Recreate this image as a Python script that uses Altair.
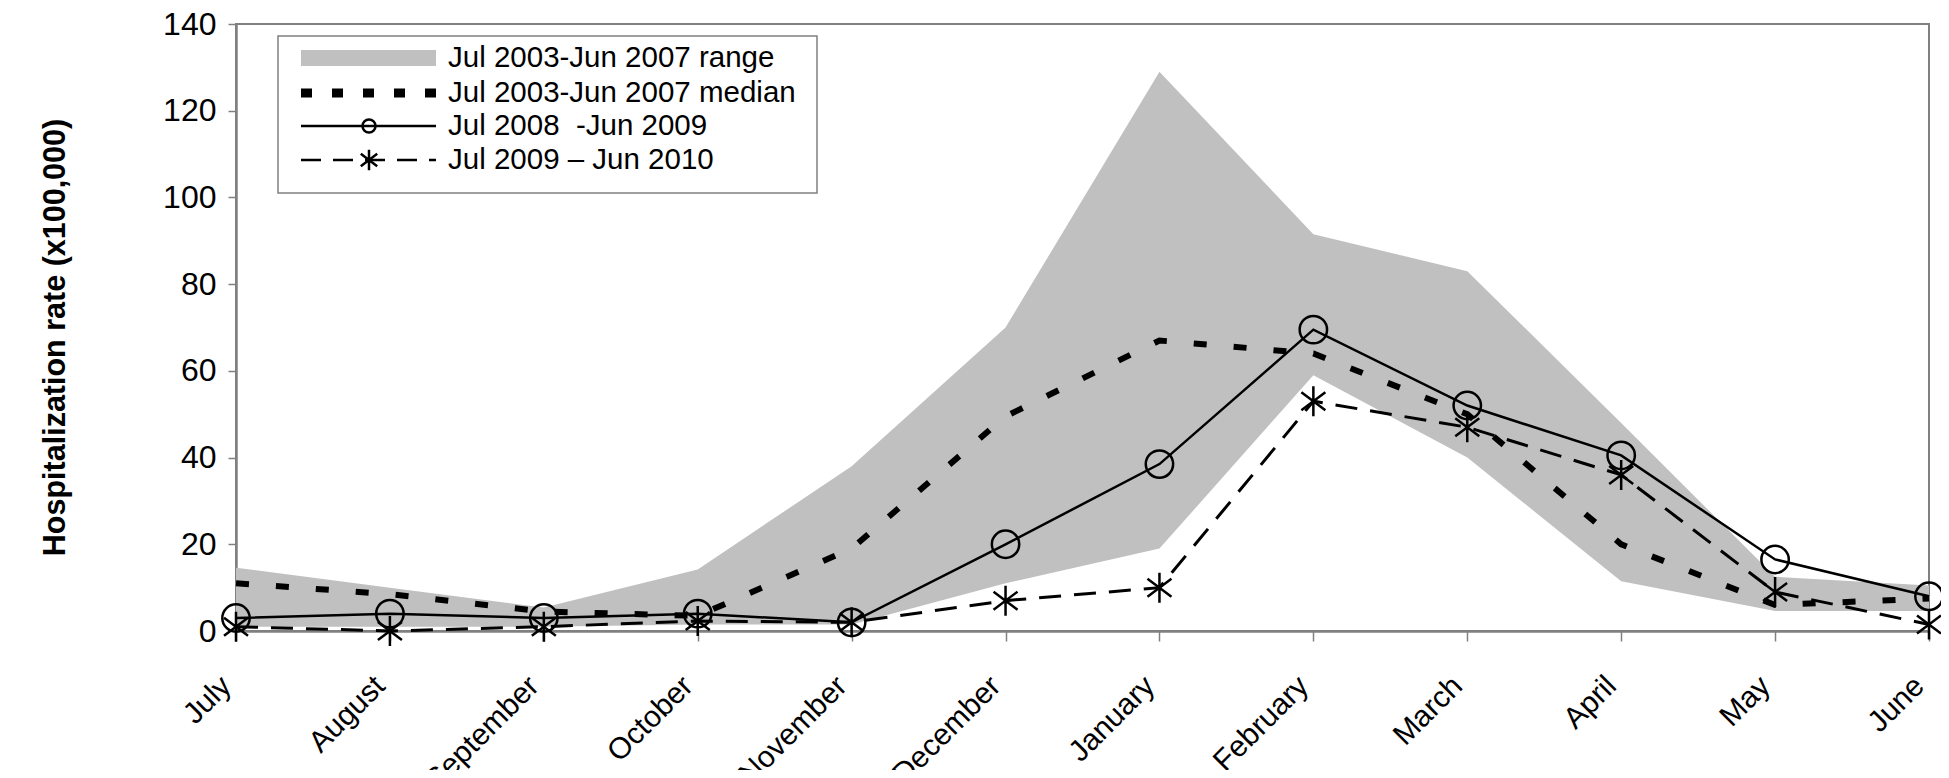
import altair as alt
import pandas as pd

# ---------------- data ----------------
months = ["July", "August", "September", "October", "November", "December",
          "January", "February", "March", "April", "May", "June"]
range_low = [1, 1, 1, 1.5, 1.5, 11, 19, 59, 40, 11.5, 4.6, 4.6]
range_high = [14.6, 10, 5.4, 14.2, 38, 70, 129, 91.5, 83, 48, 12.5, 10.5]
median_0307 = [11, 8.5, 4.5, 3.5, 19, 49.5, 67, 64, 50, 20, 6, 7.5]
rate_0809 = [3, 4, 3, 4, 2, 20, 38.5, 69.5, 52, 40.5, 16.5, 8]
rate_0910 = [1, 0, 1, 2.3, 2, 7, 10, 53, 47, 36, 9, 1.5]
series_names = ["Jul 2003-Jun 2007 range", "Jul 2003-Jun 2007 median",
                "Jul 2008\u00a0 -Jun 2009", "Jul 2009 \u2013 Jun 2010"]
y_ticks = [0, 20, 40, 60, 80, 100, 120, 140]
y_title = "Hospitalization rate (x100,000)"

df = pd.DataFrame({"month": months, "low": range_low, "high": range_high,
                   "median": median_0307, "r0809": rate_0809, "r0910": rate_0910})

# ---------------- styles ----------------
FONT = "Liberation Sans, Arial, sans-serif"
GRAY_AXIS = "#808080"
BAND = "#c0c0c0"
STAR = "M0,-1L0,1M-0.8,-0.6L0.8,0.6M-0.8,0.6L0.8,-0.6"

x_enc = alt.X("month:N", sort=months, title=None,
              scale=alt.Scale(type="point", padding=0),
              axis=alt.Axis(labelAngle=315, labelAlign="right", labelBaseline="middle",
                            labelFont=FONT, labelFontSize=30, labelColor="black",
                            labelPadding=40, labelOffset=-10, labelOverlap=False,
                            tickSize=10, tickColor=GRAY_AXIS, tickWidth=1.5,
                            domainColor=GRAY_AXIS, domainWidth=2.5, grid=False))

y_axis = alt.Axis(values=y_ticks, title=y_title, grid=False,
                  titleFont=FONT, titleFontSize=30.5, titleFontWeight="bold",
                  titleColor="black", titleAngle=270, titleX=-181, titleY=313,
                  titleAlign="center", titleBaseline="middle",
                  labelFont=FONT, labelFontSize=32, labelColor="black", labelPadding=12,
                  tickSize=8, tickColor=GRAY_AXIS, tickWidth=1.5,
                  domainColor=GRAY_AXIS, domainWidth=2.5)
y_scale = alt.Scale(domain=[0, 140], nice=False, zero=True)


def yq(field):
    return alt.Y(f"{field}:Q", scale=y_scale, axis=y_axis)


base = alt.Chart(df)

band = base.mark_area(color=BAND, opacity=1).encode(
    x=x_enc, y=yq("low"), y2="high:Q")

median_line = base.mark_line(color="black", strokeWidth=6, strokeDash=[13, 27],
                             strokeCap="butt").encode(x=x_enc, y=yq("median"))

line_0910 = base.mark_line(color="black", strokeWidth=3, strokeDash=[22, 13]).encode(
    x=x_enc, y=yq("r0910"))
pts_0910 = base.mark_point(shape=STAR, size=900, color="black", strokeWidth=2.5,
                           filled=False, opacity=1).encode(x=x_enc, y=yq("r0910"))

line_0809 = base.mark_line(color="black", strokeWidth=2.5).encode(
    x=x_enc, y=yq("r0809"))
pts_0809 = base.mark_point(shape="circle", size=750, color="black", strokeWidth=2.5,
                           filled=False, opacity=1).encode(x=x_enc, y=yq("r0809"))

# ---------------- manual legend (pixel placement inside plot area) ----------------
one = pd.DataFrame({"k": [0]})
row_y = [34, 69, 102, 136]
sym_x0, sym_x1, sym_xc, text_x = 65, 200, 133, 212

legend_layers = [
    alt.Chart(one).mark_rect(fill="white", stroke=GRAY_AXIS, strokeWidth=1.5).encode(
        x=alt.value(42), x2=alt.value(581), y=alt.value(12), y2=alt.value(169)),
    alt.Chart(one).mark_rect(fill=BAND).encode(
        x=alt.value(sym_x0), x2=alt.value(sym_x1),
        y=alt.value(row_y[0] - 8), y2=alt.value(row_y[0] + 8)),
    alt.Chart(one).mark_rule(color="black", strokeWidth=9, strokeDash=[11, 20],
                             strokeCap="butt").encode(
        x=alt.value(sym_x0), x2=alt.value(sym_x1), y=alt.value(row_y[1])),
    alt.Chart(one).mark_rule(color="black", strokeWidth=2.5).encode(
        x=alt.value(sym_x0), x2=alt.value(sym_x1), y=alt.value(row_y[2])),
    alt.Chart(one).mark_point(shape="circle", size=170, color="black", strokeWidth=2.5,
                              filled=False, opacity=1).encode(
        x=alt.value(sym_xc), y=alt.value(row_y[2])),
    alt.Chart(one).mark_rule(color="black", strokeWidth=2.5, strokeDash=[20, 12]).encode(
        x=alt.value(sym_x0), x2=alt.value(sym_x1), y=alt.value(row_y[3])),
    alt.Chart(one).mark_point(shape=STAR, size=420, color="black", strokeWidth=2.5,
                              filled=False, opacity=1).encode(
        x=alt.value(sym_xc), y=alt.value(row_y[3])),
]
for i, name in enumerate(series_names):
    legend_layers.append(
        alt.Chart(pd.DataFrame({"label": [name]})).mark_text(
            font=FONT, fontSize=29.5, color="black", align="left", baseline="middle"
        ).encode(x=alt.value(text_x), y=alt.value(row_y[i]), text="label:N"))

chart = alt.layer(band, median_line, line_0910, pts_0910, line_0809, pts_0809,
                  *legend_layers).properties(
    width=1693, height=607,
    padding={"left": 228, "top": 16, "right": 12, "bottom": 139},
    autosize=alt.AutoSizeParams(type="none"),
    background="white",
).configure_view(stroke=GRAY_AXIS, strokeWidth=2)

chart.save("out.html", embed_options={"renderer": "svg", "actions": False})
